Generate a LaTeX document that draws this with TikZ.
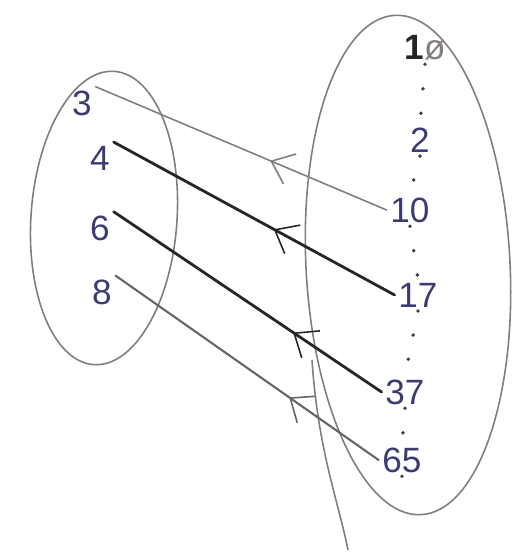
\documentclass[tikz,border=0pt]{standalone}
\usepackage{fontspec}
\setmainfont{Liberation Sans}
\usepackage{xcolor}
\usetikzlibrary{arrows.meta, decorations.markings}

\definecolor{ink}{RGB}{60,60,115}
\definecolor{pencil}{RGB}{130,124,130}

\begin{document}
\begin{tikzpicture}[
  x=0.02cm, y=-0.02cm,
  every node/.style={font=\fontsize{20}{24}\selectfont, text=ink, inner sep=2pt},
  oval/.style={draw=pencil, line width=0.9pt},
  dotcol/.style={draw=black!75, line width=2.2pt, line cap=round, dash pattern=on 0pt off 14pt},
  maparr/.style={line cap=round, postaction={decorate},
    decoration={markings, mark=at position #1 with {\arrow{Straight Barb[length=4mm, width=6.5mm, line width=0.9pt]}}}},
  thinmap/.style={maparr=#1, draw=pencil, line width=0.9pt},
  boldmap/.style={maparr=#1, draw=black!85, line width=1.6pt},
  midmap/.style={maparr=#1, draw=black!60, line width=1.2pt},
]
 \useasboundingbox (0,0) rectangle (515,555);

 % ---- Left set ----
 \draw[oval, rotate around={-4:(104,218)}] (104,218) ellipse [x radius=73, y radius=147];
 \node (l3) at (82,103) {3};
 \node (l4) at (100,158) {4};
 \node (l6) at (100,228) {6};
 \node (l8) at (102,292) {8};

 % ---- Right set ----
 \draw[oval, rotate around={3:(408,265)}] (408,265) ellipse [x radius=102, y radius=250];
 \draw[oval] (312,360) .. controls (318,450) and (338,500) .. (348,550);
 \node (r1) at (425,48) {{\bfseries\color{black!85}1}{\color{pencil}ø}};
 \node (r2) at (420,140) {2};
 \node (r10) at (410,210) {10};
 \node (r17) at (418,295) {17};
 \node (r37) at (405,392) {37};
 \node (r65) at (402,460) {65};
 \coordinate (rend) at (402,498);

 % ---- dotted column ----
 \draw[dotcol] (r1.south) -- (r2.north);
 \draw[dotcol] (r2.south) -- (r10.north);
 \draw[dotcol] (r10.south) -- (r17.north);
 \draw[dotcol] (r17.south) -- (r37.north);
 \draw[dotcol] (r37.south) -- (r65.north);
 \draw[dotcol] (r65.south) -- (rend);

 % ---- mapping ----
 \draw[thinmap=0.40] (r10.west) -- (l3.north east);
 \draw[boldmap=0.43] (r17.west) -- (l4.north east);
 \draw[boldmap=0.33] (r37.west) -- (l6.north east);
 \draw[midmap=0.34] (r65.west) -- (l8.north east);

\end{tikzpicture}
\end{document}
